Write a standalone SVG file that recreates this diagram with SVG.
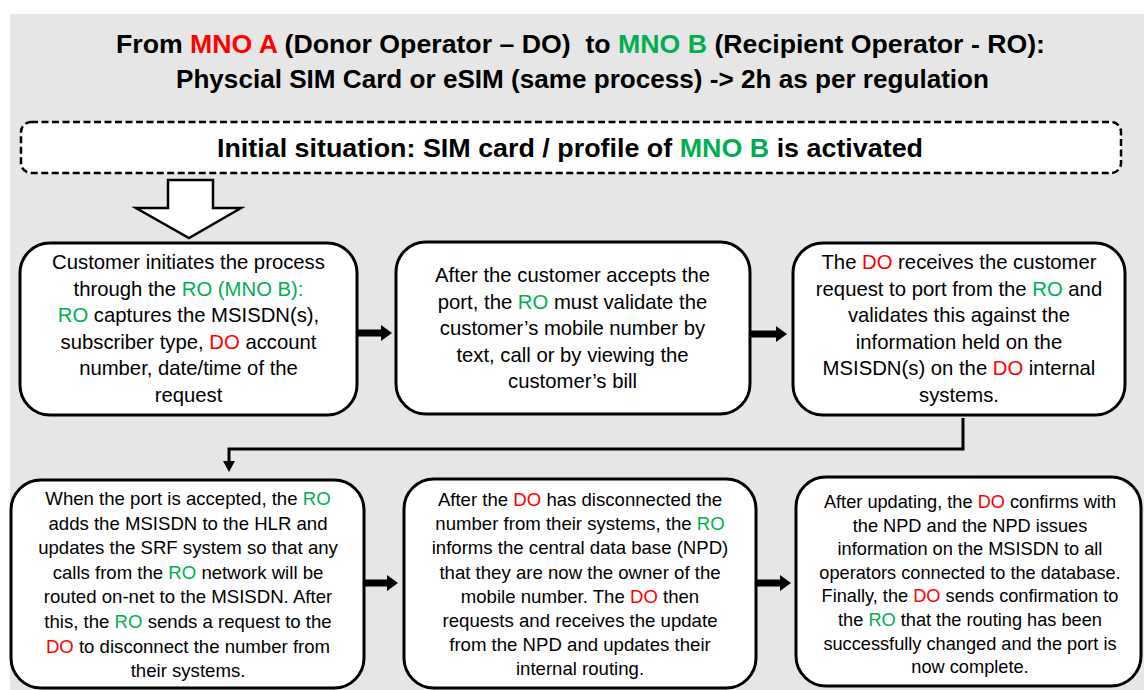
<svg xmlns="http://www.w3.org/2000/svg" width="1144" height="690" viewBox="0 0 1144 690">
<defs>
<style>
.t{font-family:"Liberation Sans",Arial,sans-serif;fill:#000;text-anchor:middle}
.h{font-weight:bold;font-size:25px}
.r1{font-size:20.3px}
.r2{font-size:18.6px}
.r3{font-size:18.2px}
.red{fill:#FF0000}
.grn{fill:#00B050}
.box{fill:#fff;stroke:#000;stroke-width:3}
.blk{stroke:#000;fill:none}
</style>
<marker id="bh" markerUnits="userSpaceOnUse" markerWidth="12" markerHeight="18" refX="0" refY="9" orient="auto">
<path d="M0,1 L11,9 L0,17 Z" fill="#000"/>
</marker>
<marker id="sh" markerUnits="userSpaceOnUse" markerWidth="12" markerHeight="14" refX="0" refY="7" orient="auto">
<path d="M0,1 L11,7 L0,13 Z" fill="#000"/>
</marker>
</defs>
<rect x="0" y="0" width="1144" height="690" fill="#fff"/>
<rect x="10" y="14" width="1134" height="676" fill="#E7E6E6"/>

<g id="title">
<text class="t h" x="580.5" y="53" textLength="929" lengthAdjust="spacingAndGlyphs">From <tspan class="red">MNO A</tspan> (Donor Operator – DO)&#160; to <tspan class="grn">MNO B</tspan> (Recipient Operator - RO):</text>
<text class="t h" x="582.5" y="88" textLength="813" lengthAdjust="spacingAndGlyphs">Physcial SIM Card or eSIM (same process) -&gt; 2h as per regulation</text>
</g>

<g id="initial">
<rect x="21" y="122" width="1100" height="51" rx="10" fill="#fff" stroke="#000" stroke-width="2.5" stroke-dasharray="7 3.5"/>
<text class="t h" x="570" y="157" textLength="706" lengthAdjust="spacingAndGlyphs">Initial situation: SIM card / profile of <tspan class="grn">MNO B</tspan> is activated</text>
</g>

<g id="start-arrow">
<polygon points="168,180 213,180 213,208 241,208 189,238 136,208 168,208" fill="#fff" stroke="#000" stroke-width="2.5" stroke-linejoin="miter"/>
</g>

<g id="connectors">
<line class="blk" x1="357" y1="333" x2="381" y2="333" stroke-width="7" marker-end="url(#bh)"/>
<line class="blk" x1="750" y1="334" x2="776" y2="334" stroke-width="7" marker-end="url(#bh)"/>
<line class="blk" x1="364" y1="583" x2="387" y2="583" stroke-width="7" marker-end="url(#bh)"/>
<line class="blk" x1="757" y1="583" x2="780" y2="583" stroke-width="7" marker-end="url(#bh)"/>
<path class="blk" d="M963,418 V449 H229 V461" stroke-width="3" marker-end="url(#sh)"/>
</g>

<g id="node1">
<rect class="box" x="20" y="243" width="337" height="172" rx="30"/>
<text class="t r1" x="188.5" y="269">Customer initiates the process</text>
<text class="t r1" x="188.5" y="295.5">through the <tspan class="grn">RO (MNO B):</tspan></text>
<text class="t r1" x="188.5" y="322"><tspan class="grn">RO</tspan> captures the MSISDN(s),</text>
<text class="t r1" x="188.5" y="348.5">subscriber type, <tspan class="red">DO</tspan> account</text>
<text class="t r1" x="188.5" y="375">number, date/time of the</text>
<text class="t r1" x="188.5" y="401.5">request</text>
</g>

<g id="node2">
<rect class="box" x="396" y="242" width="354" height="172" rx="30"/>
<text class="t r1" x="572.5" y="282">After the customer accepts the</text>
<text class="t r1" x="572.5" y="308.5">port, the <tspan class="grn">RO</tspan> must validate the</text>
<text class="t r1" x="572.5" y="335">customer’s mobile number by</text>
<text class="t r1" x="572.5" y="361.5">text, call or by viewing the</text>
<text class="t r1" x="572.5" y="388">customer’s bill</text>
</g>

<g id="node3">
<rect class="box" x="793" y="243" width="332" height="172" rx="30"/>
<text class="t r1" x="959" y="269">The <tspan class="red">DO</tspan> receives the customer</text>
<text class="t r1" x="959" y="295.5">request to port from the <tspan class="grn">RO</tspan> and</text>
<text class="t r1" x="959" y="322">validates this against the</text>
<text class="t r1" x="959" y="348.5">information held on the</text>
<text class="t r1" x="959" y="375">MSISDN(s) on the <tspan class="red">DO</tspan> internal</text>
<text class="t r1" x="959" y="401.5">systems.</text>
</g>

<g id="node4">
<rect class="box" x="11" y="480" width="353" height="208" rx="30"/>
<text class="t r2" x="188" y="505">When the port is accepted, the <tspan class="grn">RO</tspan></text>
<text class="t r2" x="188" y="529.6">adds the MSISDN to the HLR and</text>
<text class="t r2" x="188" y="554.2">updates the SRF system so that any</text>
<text class="t r2" x="188" y="578.8">calls from the <tspan class="grn">RO</tspan> network will be</text>
<text class="t r2" x="188" y="603.4">routed on-net to the MSISDN. After</text>
<text class="t r2" x="188" y="628">this, the <tspan class="grn">RO</tspan> sends a request to the</text>
<text class="t r2" x="188" y="652.6"><tspan class="red">DO</tspan> to disconnect the number from</text>
<text class="t r2" x="188" y="677.2">their systems.</text>
</g>

<g id="node5">
<rect class="box" x="404" y="479" width="352" height="209" rx="30"/>
<text class="t r2" x="580" y="506">After the <tspan class="red">DO</tspan> has disconnected the</text>
<text class="t r2" x="580" y="530.2">number from their systems, the <tspan class="grn">RO</tspan></text>
<text class="t r2" x="580" y="554.4">informs the central data base (NPD)</text>
<text class="t r2" x="580" y="578.6">that they are now the owner of the</text>
<text class="t r2" x="580" y="602.8">mobile number. The <tspan class="red">DO</tspan> then</text>
<text class="t r2" x="580" y="627">requests and receives the update</text>
<text class="t r2" x="580" y="651.2">from the NPD and updates their</text>
<text class="t r2" x="580" y="675.4">internal routing.</text>
</g>

<g id="node6">
<rect class="box" x="796" y="477" width="345" height="209" rx="30"/>
<text class="t r3" x="970" y="508">After updating, the <tspan class="red">DO</tspan> confirms with</text>
<text class="t r3" x="970" y="531.6">the NPD and the NPD issues</text>
<text class="t r3" x="970" y="555.2">information on the MSISDN to all</text>
<text class="t r3" x="970" y="578.8">operators connected to the database.</text>
<text class="t r3" x="970" y="602.4">Finally, the <tspan class="red">DO</tspan> sends confirmation to</text>
<text class="t r3" x="970" y="626">the <tspan class="grn">RO</tspan> that the routing has been</text>
<text class="t r3" x="970" y="649.6">successfully changed and the port is</text>
<text class="t r3" x="970" y="673.2">now complete.</text>
</g>
</svg>
